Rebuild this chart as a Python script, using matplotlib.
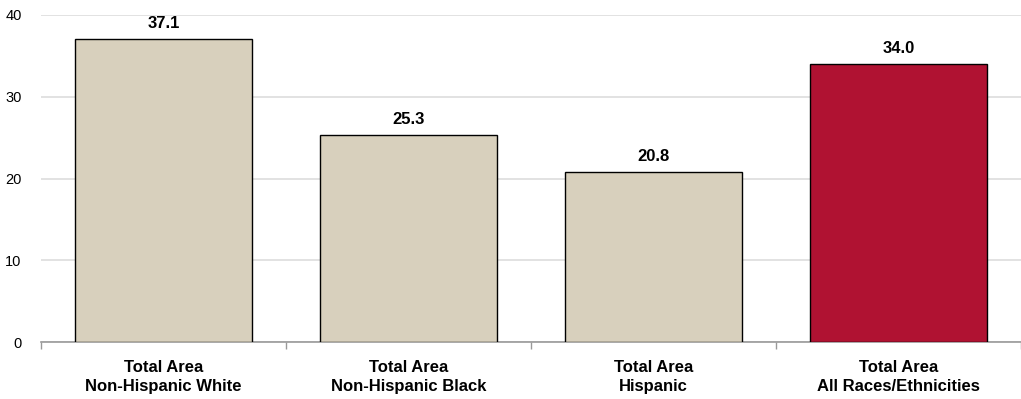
import matplotlib.pyplot as plt
import numpy as np

categories = [
    "Total Area\nNon-Hispanic White",
    "Total Area\nNon-Hispanic Black",
    "Total Area\nHispanic",
    "Total Area\nAll Races/Ethnicities",
]
values = [37.1, 25.3, 20.8, 34.0]
colours = ["#D8D0BD", "#D8D0BD", "#D8D0BD", "#B01232"]
yticks = [0, 10, 20, 30, 40]

plt.rcParams["font.family"] = ["Liberation Sans Narrow", "Liberation Sans", "DejaVu Sans"]

fig = plt.figure(figsize=(10.21, 3.99), dpi=100)
ax = fig.add_axes([41 / 1021, 57 / 399, 980 / 1021, 327 / 399])

x = np.arange(len(values))
bars = ax.bar(x, values, width=0.72, color=colours, edgecolor="black", linewidth=1, zorder=3)
for b, v in zip(bars, values):
    ax.text(b.get_x() + b.get_width() / 2, v + 1.0, f"{v:.1f}",
            ha="center", va="bottom", fontsize=12, fontweight="bold")

ax.set_xlim(-0.5, len(values) - 0.5)
ax.set_ylim(0, 40)
ax.set_yticks(yticks)
ax.set_yticklabels([str(t) for t in yticks], fontsize=10.5)
ax.yaxis.grid(True, color="#DDDDDD", linewidth=1.2, zorder=0)
ax.tick_params(axis="y", length=0, pad=14)

ax.set_xticks(x)
ax.set_xticklabels(categories, fontsize=12, fontweight="bold", linespacing=1.35)
ax.tick_params(axis="x", which="major", length=0, pad=13)
ax.set_xticks(np.arange(-0.5, len(values), 1), minor=True)
ax.tick_params(axis="x", which="minor", length=5, color="#999999", width=1)

for s in ["top", "right", "left"]:
    ax.spines[s].set_visible(False)
ax.spines["bottom"].set_color("#999999")
ax.spines["bottom"].set_linewidth(1.2)

fig.savefig("out.png", dpi=100)
